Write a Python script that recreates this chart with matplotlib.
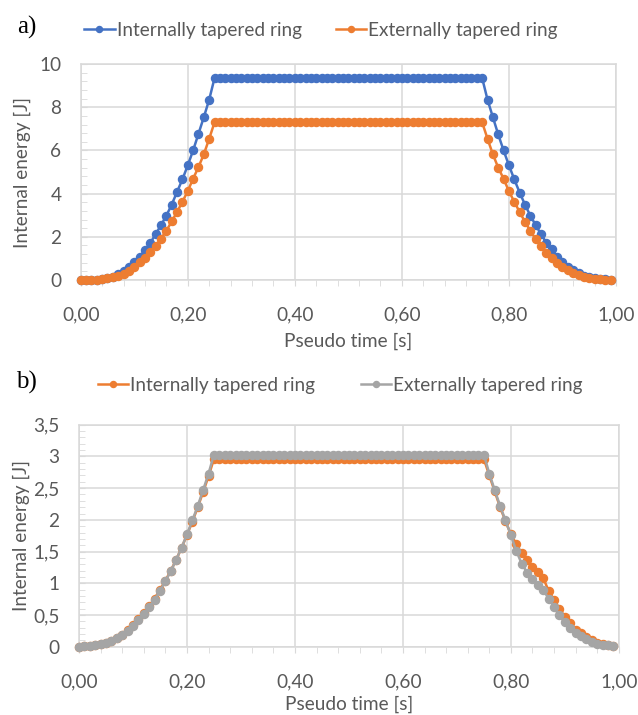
import numpy as np
import matplotlib
matplotlib.use("Agg")
import matplotlib.pyplot as plt
from matplotlib.ticker import MultipleLocator

plt.rcParams['font.family'] = ['Lato', 'DejaVu Sans']

# pseudo time samples (s)
time = np.round(np.arange(100) * 0.01, 2)

# a) internal energy [J]
int_a = [0.0, 0.0, 0.01, 0.02, 0.05, 0.09, 0.15, 0.26, 0.42, 0.62,
         0.82, 1.08, 1.38, 1.72, 2.12, 2.54, 2.98, 3.49, 4.08, 4.66,
         5.31, 6.0, 6.77, 7.54, 8.35, 9.35, 9.35, 9.35, 9.35, 9.35,
         9.35, 9.35, 9.35, 9.35, 9.35, 9.35, 9.35, 9.35, 9.35, 9.35,
         9.35, 9.35, 9.35, 9.35, 9.35, 9.35, 9.35, 9.35, 9.35, 9.35,
         9.35, 9.35, 9.35, 9.35, 9.35, 9.35, 9.35, 9.35, 9.35, 9.35,
         9.35, 9.35, 9.35, 9.35, 9.35, 9.35, 9.35, 9.35, 9.35, 9.35,
         9.35, 9.35, 9.35, 9.35, 9.35, 9.35, 8.35, 7.54, 6.74, 6.0,
         5.31, 4.66, 4.05, 3.49, 2.98, 2.54, 2.12, 1.72, 1.42, 1.08,
         0.85, 0.62, 0.46, 0.31, 0.18, 0.12, 0.08, 0.05, 0.03, 0.01]
ext_a = [0.0, 0.0, 0.01, 0.02, 0.04, 0.07, 0.12, 0.18, 0.28, 0.43,
         0.6, 0.82, 1.03, 1.28, 1.58, 1.92, 2.28, 2.71, 3.15, 3.62,
         4.12, 4.69, 5.23, 5.82, 6.54, 7.3, 7.3, 7.3, 7.3, 7.3,
         7.3, 7.3, 7.3, 7.3, 7.3, 7.3, 7.3, 7.3, 7.3, 7.3,
         7.3, 7.3, 7.3, 7.3, 7.3, 7.3, 7.3, 7.3, 7.3, 7.3,
         7.3, 7.3, 7.3, 7.3, 7.3, 7.3, 7.3, 7.3, 7.3, 7.3,
         7.3, 7.3, 7.3, 7.3, 7.3, 7.3, 7.3, 7.3, 7.3, 7.3,
         7.3, 7.3, 7.3, 7.3, 7.3, 7.3, 6.54, 5.82, 5.2, 4.69,
         4.11, 3.62, 3.15, 2.69, 2.28, 1.89, 1.58, 1.26, 1.0, 0.8,
         0.62, 0.46, 0.34, 0.23, 0.15, 0.1, 0.06, 0.03, 0.01, 0.0]

# b) internal energy [J]
int_b = [0.0, 0.005, 0.01, 0.02, 0.04, 0.06, 0.09, 0.14, 0.19, 0.26,
         0.34, 0.43, 0.53, 0.64, 0.76, 0.9, 1.04, 1.2, 1.37, 1.56,
         1.76, 1.97, 2.2, 2.44, 2.69, 2.96, 2.96, 2.96, 2.96, 2.96,
         2.96, 2.96, 2.96, 2.96, 2.96, 2.96, 2.96, 2.96, 2.96, 2.96,
         2.96, 2.96, 2.96, 2.96, 2.96, 2.96, 2.96, 2.96, 2.96, 2.96,
         2.96, 2.96, 2.96, 2.96, 2.96, 2.96, 2.96, 2.96, 2.96, 2.96,
         2.96, 2.96, 2.96, 2.96, 2.96, 2.96, 2.96, 2.96, 2.96, 2.96,
         2.96, 2.96, 2.96, 2.96, 2.96, 2.96, 2.7, 2.45, 2.2, 1.98,
         1.77, 1.62, 1.47, 1.37, 1.26, 1.18, 1.08, 0.88, 0.74, 0.6,
         0.47, 0.37, 0.27, 0.21, 0.15, 0.1, 0.06, 0.04, 0.02, 0.01]
ext_b = [0.0, 0.005, 0.01, 0.02, 0.04, 0.06, 0.09, 0.13, 0.18, 0.25,
         0.33, 0.42, 0.51, 0.62, 0.74, 0.88, 1.03, 1.19, 1.37, 1.56,
         1.77, 1.99, 2.22, 2.47, 2.73, 3.03, 3.03, 3.03, 3.03, 3.03,
         3.03, 3.03, 3.03, 3.03, 3.03, 3.03, 3.03, 3.03, 3.03, 3.03,
         3.03, 3.03, 3.03, 3.03, 3.03, 3.03, 3.03, 3.03, 3.03, 3.03,
         3.03, 3.03, 3.03, 3.03, 3.03, 3.03, 3.03, 3.03, 3.03, 3.03,
         3.03, 3.03, 3.03, 3.03, 3.03, 3.03, 3.03, 3.03, 3.03, 3.03,
         3.03, 3.03, 3.03, 3.03, 3.03, 3.03, 2.73, 2.47, 2.22, 1.99,
         1.76, 1.51, 1.31, 1.17, 1.06, 0.98, 0.89, 0.76, 0.63, 0.5,
         0.39, 0.3, 0.22, 0.17, 0.12, 0.08, 0.05, 0.03, 0.02, 0.01]

labels = ["Internally tapered ring", "Externally tapered ring"]
x_ticks = [0.0, 0.2, 0.4, 0.6, 0.8, 1.0]
x_ticklabels = ["0,00", "0,20", "0,40", "0,60", "0,80", "1,00"]
ya_ticks = [0, 2, 4, 6, 8, 10]
ya_ticklabels = ["0", "2", "4", "6", "8", "10"]
yb_ticks = [0, 0.5, 1.0, 1.5, 2.0, 2.5, 3.0, 3.5]
yb_ticklabels = ["0", "0,5", "1", "1,5", "2", "2,5", "3", "3,5"]

BLUE = "#4472C4"
ORANGE = "#ED7D31"
GRAY = "#A5A5A5"
GRID = "#D9D9D9"
TEXT = "#595959"
FS = 13.7


def style_axes(ax, yticks, yticklabels, ymax, yminor):
  ax.set_xlim(0, 1.0)
  ax.set_ylim(0, ymax)
  ax.set_xticks(x_ticks)
  ax.set_xticklabels(x_ticklabels)
  ax.set_yticks(yticks)
  ax.set_yticklabels(yticklabels)
  ax.xaxis.set_minor_locator(MultipleLocator(0.04))
  ax.yaxis.set_minor_locator(MultipleLocator(yminor))
  ax.grid(True, which="major", color=GRID, lw=1.1)
  ax.set_axisbelow(True)
  for s in ax.spines.values():
    s.set_color(GRID)
    s.set_linewidth(1.1)
  ax.tick_params(axis="x", which="both", direction="out", length=4,
                 color=GRID, labelcolor=TEXT, labelsize=FS, pad=15)
  ax.tick_params(axis="y", which="both", direction="in", length=4,
                 color=GRID, labelcolor=TEXT, labelsize=FS, pad=14)
  ax.set_xlabel("Pseudo time [s]", fontsize=FS, color=TEXT)
  ax.set_ylabel("Internal energy [J]", fontsize=FS, color=TEXT)


def draw(ax, y, color):
  ax.plot(time, y, "-o", color=color, lw=1.8, ms=5.8, mec=color,
          clip_on=False, zorder=3)


def add_legend(ax, x, y, spacing):
  ax.legend(labels, loc="center", bbox_to_anchor=(x, y),
            bbox_transform=fig.transFigure, ncol=2, frameon=False,
            fontsize=FS, labelcolor=TEXT, handlelength=1.6,
            handletextpad=0.1, columnspacing=spacing, markerscale=0.75)


fig = plt.figure(figsize=(6.38, 7.15), dpi=100)

# panel a
ax1 = fig.add_axes([0.1265, 0.6084, 0.839, 0.302])
draw(ax1, int_a, BLUE)
draw(ax1, ext_a, ORANGE)
style_axes(ax1, ya_ticks, ya_ticklabels, 10, 0.4)
ax1.xaxis.set_label_coords(0.5, -0.245)
ax1.yaxis.set_label_coords(-0.092, 0.5)
add_legend(ax1, 0.503, 0.958, 1.8)

# panel b
ax2 = fig.add_axes([0.1238, 0.0955, 0.8462, 0.3105])
draw(ax2, int_b, ORANGE)
draw(ax2, ext_b, GRAY)
style_axes(ax2, yb_ticks, yb_ticklabels, 3.5, 0.1)
ax2.xaxis.set_label_coords(0.5, -0.22)
ax2.yaxis.set_label_coords(-0.09, 0.5)
add_legend(ax2, 0.533, 0.4615, 2.4)

fig.text(27 / 638, 1 - 27 / 715, "a)", fontsize=18, family="Liberation Serif",
         ha="center", va="center")
fig.text(26 / 638, 1 - 382 / 715, "b)", fontsize=18, family="Liberation Serif",
         ha="center", va="center")

fig.savefig("out.png", dpi=100)
